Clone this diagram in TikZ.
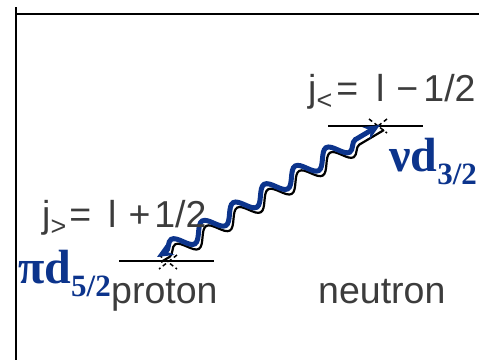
\documentclass[tikz,border=0pt]{standalone}
\usepackage{fontspec}
\setmainfont{Liberation Serif}
\newfontfamily\arialf{Liberation Sans}
\usetikzlibrary{decorations.pathmorphing,arrows.meta}
\definecolor{wblue}{RGB}{12,52,140}
\definecolor{tgray}{RGB}{60,60,60}
\newcommand{\jsub}[1]{\raisebox{-8pt}{\fontsize{27}{27}\selectfont #1}}
\newcommand{\bsub}[1]{\raisebox{-13pt}{\fontsize{31}{32}\selectfont #1}}
\begin{document}
\begin{tikzpicture}[x=1pt,y=-1pt,
  lbl/.style={font=\arialf\fontsize{37.5}{40}\selectfont, text=tgray, inner sep=0pt, anchor=base west},
  blbl/.style={font=\fontsize{48}{50}\selectfont\bfseries, text=wblue, inner sep=0pt, anchor=base west},
  levelline/.style={line width=2pt},
  crossmark/.style={line width=1.5pt, dash pattern=on 4pt off 3pt},
  wave/.style={decorate, decoration={snake, segment length=36pt, amplitude=8pt, pre length=10pt, post length=14pt}}]
\useasboundingbox (0,0) rectangle (479,360);
\clip (0,0) rectangle (479,360);
% frame
\draw[line width=2.5pt] (16,7) -- (16,360);
\draw[line width=2pt] (16,14) -- (479,14);
% levels
\draw[levelline] (119,261) -- (214,261);
\draw[levelline] (328,126) -- (423,126);
% cross marks
\coordinate (pA) at (168,262);
\coordinate (nA) at (378,126);
\draw[crossmark] (pA) ++(-9,-7) -- ++(18,14);
\draw[crossmark] (pA) ++(9,-7) -- ++(-18,14);
\draw[crossmark] (nA) ++(-9,-7) -- ++(18,14);
\draw[crossmark] (nA) ++(9,-7) -- ++(-18,14);
% wave
\coordinate (lo) at (157,257);
\coordinate (hi) at (380,125);
\draw[black, line width=2.2pt, wave] ([shift={(4,5)}]lo) -- ([shift={(4,5)}]hi);
\draw[wblue, line width=5pt, wave, {Stealth[length=16pt,width=14pt]}-{Stealth[length=16pt,width=14pt]}] (lo) -- (hi);
% labels
\node[lbl] (jlt) at (308,101) {j\jsub{<}\hspace{4pt}=\hspace{18pt}l\hspace{12pt}−\hspace{5pt}1/2};
\node[lbl] (jgt) at (42,227) {j\jsub{>}\hspace{3pt}=\hspace{17pt}l\hspace{12pt}+\hspace{4pt}1/2};
\node[lbl] (prot) at (111,303) {proton};
\node[lbl] (neut) at (318,303) {neutron};
\node[blbl] (pid) at (18,283) {πd\bsub{5/2}};
\node[blbl] (nud) at (389,171) {νd\bsub{3/2}};
\end{tikzpicture}
\end{document}
